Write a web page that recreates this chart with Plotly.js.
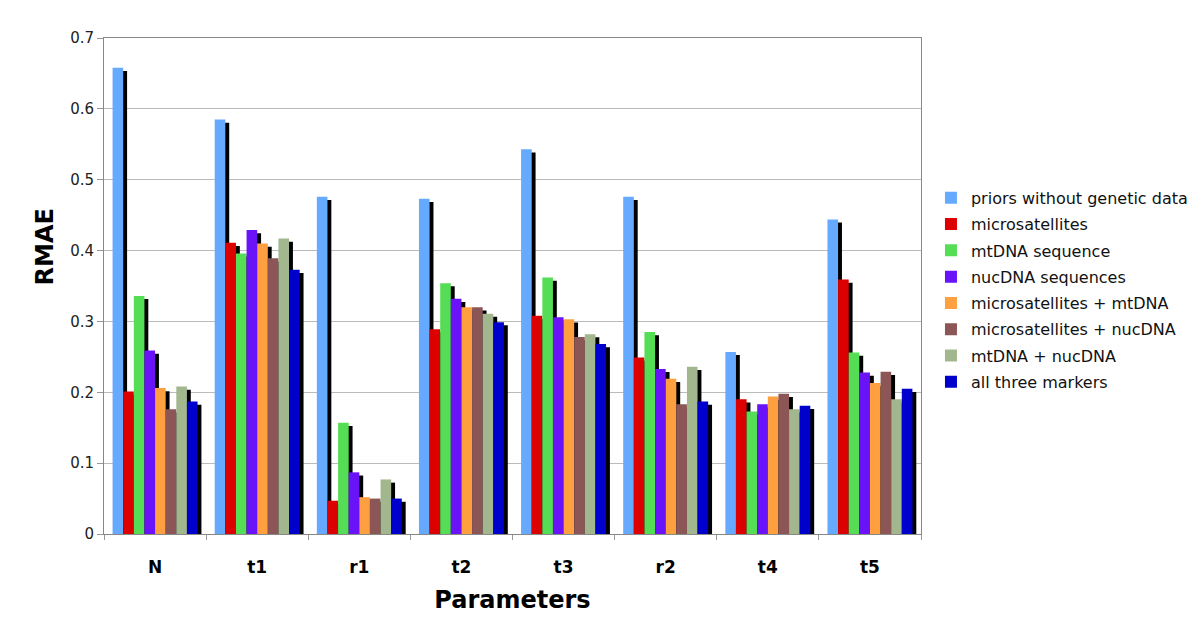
<!DOCTYPE html>
<html>
<head>
<meta charset="utf-8">
<script src="https://cdn.plot.ly/plotly-3.0.1.min.js"></script>
<style>
html,body{margin:0;padding:0;background:#fff;}
#chart{width:1200px;height:628px;}
</style>
</head>
<body>
<div id="chart"></div>
<script>
const categories = ["N", "t1", "r1", "t2", "t3", "r2", "t4", "t5"];
const seriesNames = [
  "priors without genetic data",
  "microsatellites",
  "mtDNA sequence",
  "nucDNA sequences",
  "microsatellites + mtDNA",
  "microsatellites + nucDNA",
  "mtDNA + nucDNA",
  "all three markers"
];
const priors      = [0.658, 0.585, 0.476, 0.473, 0.543, 0.476, 0.257, 0.444];
const micro       = [0.201, 0.411, 0.047, 0.289, 0.308, 0.249, 0.190, 0.359];
const mtDNA       = [0.336, 0.396, 0.157, 0.354, 0.362, 0.285, 0.173, 0.256];
const nucDNA      = [0.259, 0.429, 0.087, 0.332, 0.306, 0.233, 0.183, 0.228];
const microMt     = [0.206, 0.410, 0.052, 0.320, 0.303, 0.219, 0.194, 0.213];
const microNuc    = [0.176, 0.389, 0.050, 0.320, 0.278, 0.183, 0.198, 0.229];
const mtNuc       = [0.208, 0.417, 0.077, 0.311, 0.282, 0.236, 0.176, 0.190];
const allThree    = [0.187, 0.373, 0.050, 0.299, 0.268, 0.187, 0.181, 0.205];

const seriesValues = [priors, micro, mtDNA, nucDNA, microMt, microNuc, mtNuc, allThree];
const colors = ["#66aaff", "#dd0000", "#55dd55", "#6a12f8", "#ffa040", "#8c5656", "#a3b78f", "#0000cc"];

const barW = 0.104;
const start = -4 * barW;
const shadowDx = 0.038;
const shadowDy = 0.0045;

const shadows = [];
const bars = [];
seriesValues.forEach((vals, i) => {
  shadows.push({
    type: "bar",
    x: categories,
    y: vals.map(v => v - shadowDy),
    offset: start + i * barW + shadowDx,
    width: barW,
    marker: {color: "#000000", line: {width: 0}},
    showlegend: false,
    legendgroup: "g" + i,
    hoverinfo: "skip"
  });
  bars.push({
    type: "bar",
    name: seriesNames[i],
    x: categories,
    y: vals,
    offset: start + i * barW,
    width: barW,
    marker: {color: colors[i], line: {width: 0}},
    legendgroup: "g" + i
  });
});

const layout = {
  width: 1200,
  height: 628,
  paper_bgcolor: "#ffffff",
  plot_bgcolor: "#ffffff",
  margin: {l: 104, r: 279, t: 38, b: 94, autoexpand: false},
  barmode: "overlay",
  font: {family: "DejaVu Sans, Verdana, sans-serif", color: "#000"},
  xaxis: {
    type: "category",
    tickson: "boundaries",
    ticks: "outside",
    ticklen: 5,
    tickcolor: "#999",
    ticklabelstandoff: 18,
    showline: true,
    linecolor: "#888",
    mirror: true,
    showgrid: false,
    tickfont: {family: "DejaVu Sans, Verdana, sans-serif", size: 17, color: "#000", weight: "bold"},
    title: {text: "Parameters", font: {family: "DejaVu Sans, Verdana, sans-serif", size: 24, color: "#000", weight: "bold"}, standoff: 14}
  },
  yaxis: {
    range: [0, 0.7],
    dtick: 0.1,
    tick0: 0,
    ticks: "outside",
    ticklen: 6,
    tickcolor: "#999",
    showline: true,
    linecolor: "#888",
    mirror: true,
    showgrid: true,
    gridcolor: "#bbbbbb",
    gridwidth: 1,
    zeroline: false,
    tickfont: {family: "DejaVu Sans, Verdana, sans-serif", size: 15, color: "#222"}
  },
  legend: {
    x: 1.0122,
    xanchor: "left",
    y: 0.712,
    yanchor: "top",
    traceorder: "grouped",
    tracegroupgap: 2.5,
    font: {family: "DejaVu Sans, Verdana, sans-serif", size: 16, color: "#111"},
    bgcolor: "rgba(0,0,0,0)"
  },
  annotations: [{
    text: "RMAE",
    xref: "paper", yref: "paper",
    x: -0.072, y: 0.578,
    xanchor: "center", yanchor: "middle",
    textangle: -90,
    showarrow: false,
    font: {family: "DejaVu Sans, Verdana, sans-serif", size: 24, color: "#000", weight: "bold"}
  }]
};

Plotly.newPlot("chart", shadows.concat(bars), layout, {displayModeBar: false, staticPlot: true});
</script>
</body>
</html>
